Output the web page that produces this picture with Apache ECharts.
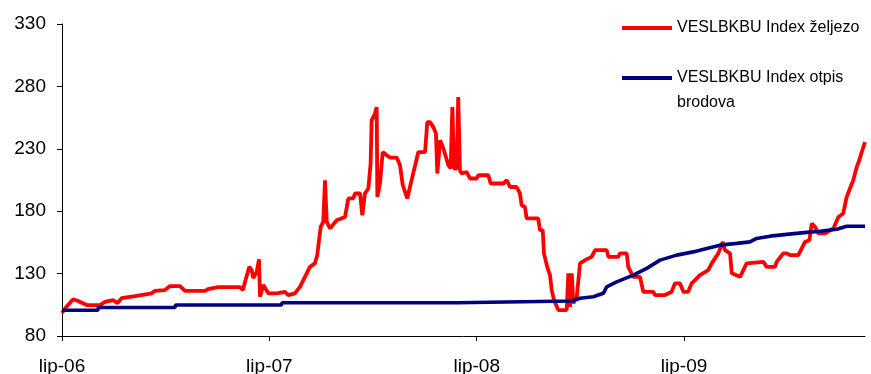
<!DOCTYPE html>
<html>
<head>
<meta charset="utf-8">
<script src="https://cdn.jsdelivr.net/npm/echarts@6/dist/echarts.min.js"></script>
<style>
  html, body { margin: 0; padding: 0; background: #fff; }
  #chart { width: 871px; height: 374px; }
</style>
</head>
<body>
<div id="chart"></div>
<script>
// x positions are months counted from July 2006
const ironName = 'VESLBKBU Index željezo';
const scrapName = 'VESLBKBU Index otpis brodova';

const ironMonths = [0, 0.23, 0.65, 0.93, 1.43, 2.2, 2.49, 2.95, 3.22, 3.45, 4.22, 5.19, 5.38, 5.96, 6.25, 6.83, 7.12, 8.28, 8.45, 9.03, 10.3, 10.47, 10.59, 10.84, 10.98, 11.07, 11.27, 11.4, 11.46, 11.65, 11.94, 12.43, 12.9, 13.1, 13.48, 13.77, 14.06, 14.35, 14.64, 14.77, 14.97, 15.12, 15.22, 15.32, 15.51, 15.9, 16.38, 16.57, 16.86, 16.96, 17.25, 17.38, 17.53, 17.73, 17.86, 17.92, 18.11, 18.21, 18.25, 18.4, 18.56, 18.79, 18.98, 19.37, 19.56, 19.72, 19.98, 20.62, 21.01, 21.14, 21.3, 21.49, 21.64, 21.72, 21.88, 22.07, 22.36, 22.49, 22.59, 22.69, 22.84, 22.93, 23.03, 23.13, 23.42, 23.61, 24.0, 24.09, 24.67, 24.81, 25.54, 25.74, 25.93, 26.31, 26.5, 26.6, 26.79, 26.89, 27.56, 27.66, 27.82, 27.89, 28.08, 28.24, 28.34, 28.47, 28.72, 29.21, 29.3, 29.4, 29.5, 29.59, 29.79, 29.98, 30.27, 30.65, 30.85, 31.52, 31.62, 32.19, 32.29, 32.68, 32.77, 33.06, 33.45, 33.64, 34.22, 34.32, 34.9, 35.28, 35.47, 35.76, 35.96, 36.24, 36.44, 36.92, 37.4, 37.6, 37.98, 38.24, 38.37, 38.66, 38.76, 39.24, 39.62, 40.59, 40.78, 41.26, 41.36, 41.74, 41.94, 42.13, 42.61, 42.81, 43.0, 43.25, 43.39, 43.58, 43.77, 44.16, 44.64, 44.93, 45.21, 45.41, 45.6, 45.79, 45.99, 46.14, 46.28, 46.47];
const ironIndex = [98.4, 103, 109.4, 108, 104.8, 104.8, 107.4, 108.8, 106.4, 110.4, 112, 114.2, 116.2, 116.8, 120, 120, 116.2, 116.2, 117.6, 119.2, 119.2, 116.8, 123.2, 135.4, 132.8, 126.4, 131.4, 141.4, 111.4, 120.8, 114.2, 114.2, 115.4, 112.8, 114.2, 119.4, 127.4, 135.4, 138.2, 144.8, 167.4, 171.4, 204.8, 171.4, 166.2, 172.8, 175.4, 190.2, 190.2, 194.2, 194.2, 176.8, 194.2, 198.2, 218.2, 252.8, 258.2, 263.4, 191.4, 202.2, 227.4, 224.8, 223, 223, 216.8, 200.8, 190.2, 227.4, 227.4, 251.4, 251.4, 247.4, 242.2, 210.2, 236.8, 230.2, 216.8, 214.2, 263.4, 214.2, 214.2, 271.4, 212.8, 210.2, 211.4, 206.2, 206.2, 208.8, 208.8, 202.2, 202.2, 204.8, 199.4, 199.4, 194.2, 184.8, 183.4, 174.2, 174.2, 164.8, 164.8, 146.2, 135.4, 128.8, 116.8, 108.8, 100.8, 100.8, 130.2, 103.4, 130.2, 106.2, 111.4, 138.2, 140.8, 143.4, 148.8, 148.8, 143.4, 143.4, 146.2, 146.2, 135.4, 127.4, 127.4, 115.4, 115.4, 112.8, 112.8, 115.4, 122.2, 122.2, 115.4, 115.4, 122.2, 128.8, 132.8, 138.2, 146.2, 155.4, 148.8, 146.2, 130.2, 127.4, 138.2, 139.4, 135.4, 135.4, 139.4, 146.2, 146.2, 144.8, 144.8, 150.2, 155.4, 156.8, 170.2, 167.4, 162.2, 162.2, 166.2, 175.4, 178.2, 191.4, 198.2, 204.8, 215.4, 220.8, 227.4, 235.4];

const scrapMonths = [0, 2.08, 2.1, 6.54, 6.57, 12.7, 12.73, 22.83, 22.86, 29.51, 29.98, 30.75, 31.33, 31.52, 32.1, 33.06, 33.84, 34.61, 35.57, 36.53, 37.31, 38.08, 39.05, 39.81, 40.2, 40.97, 41.94, 43.1, 43.87, 44.83, 45.41, 46.47];
const scrapIndex = [100.6, 100.6, 102.8, 102.8, 104.8, 104.8, 106.6, 106.6, 108, 108, 110.2, 111.4, 114.2, 119.4, 123.4, 128.8, 134.2, 140.8, 144.8, 147.4, 150.2, 152.8, 154.2, 155.4, 158.2, 160, 161.4, 163, 164, 165.6, 168, 168];

const yearTicks = [0, 12, 24, 36];
const yearLabels = ['lip-06', 'lip-07', 'lip-08', 'lip-09'];

const font = '"Liberation Sans", Arial, sans-serif';

function pairs(xs, ys) {
  return xs.map((x, i) => [x, ys[i]]);
}

const chart = echarts.init(document.getElementById('chart'), null, { renderer: 'canvas' });
chart.setOption({
  animation: false,
  backgroundColor: '#ffffff',
  textStyle: { fontFamily: font },
  grid: { left: 62, right: 6, top: 24, bottom: 38, containLabel: false, outerBoundsMode: 'none' },
  legend: {
    orient: 'vertical',
    left: 622,
    top: 15.5,
    padding: 0,
    itemGap: 0,
    itemWidth: 50,
    itemHeight: 4,
    icon: 'rect',
    data: [ironName, scrapName],
    // the wrapped name keeps its first line level with the legend swatch
    formatter: function (name) {
      return name === scrapName ? '\nVESLBKBU Index otpis\nbrodova' : name;
    },
    textStyle: { fontFamily: font, fontSize: 16, color: '#000', lineHeight: 25 }
  },
  xAxis: {
    type: 'value',
    min: 0,
    max: 46.47,
    interval: 12,
    splitLine: { show: false },
    axisLine: { show: true, onZero: false, lineStyle: { color: '#000', width: 1 } },
    axisTick: { show: true, length: 5, customValues: yearTicks, lineStyle: { color: '#000' } },
    axisLabel: {
      customValues: yearTicks,
      margin: 21,
      fontFamily: font,
      fontSize: 19,
      color: '#000',
      formatter: function (v) { return yearLabels[yearTicks.indexOf(v)] || ''; }
    }
  },
  yAxis: {
    type: 'value',
    min: 80,
    max: 330,
    interval: 50,
    splitLine: { show: false },
    axisLine: { show: true, lineStyle: { color: '#000', width: 1 } },
    axisTick: { show: true, length: 5, lineStyle: { color: '#000' } },
    axisLabel: { margin: 16, fontFamily: font, fontSize: 19, color: '#000' }
  },
  series: [
    {
      name: ironName,
      type: 'line',
      data: pairs(ironMonths, ironIndex),
      showSymbol: false,
      symbol: 'none',
      color: '#ff0000',
      lineStyle: { color: '#ff0000', width: 3.8 }
    },
    {
      name: scrapName,
      type: 'line',
      data: pairs(scrapMonths, scrapIndex),
      showSymbol: false,
      symbol: 'none',
      color: '#000080',
      lineStyle: { color: '#000080', width: 3.6 }
    }
  ]
});
</script>
</body>
</html>
